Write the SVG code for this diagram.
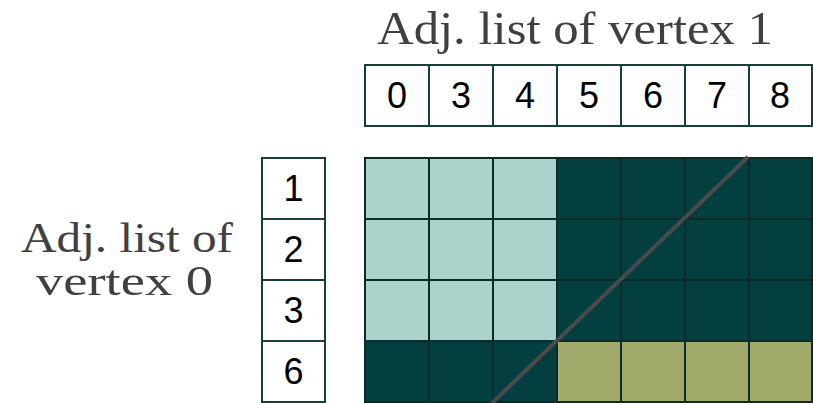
<svg xmlns="http://www.w3.org/2000/svg" width="813" height="403" viewBox="0 0 813 403">
<style>
.lbl{font-family:"Liberation Serif","DejaVu Serif",serif;font-size:46px;fill:#404040}
.lbl2{font-family:"Liberation Serif","DejaVu Serif",serif;font-size:43px;fill:#404040}
.box{fill:#ffffff;stroke:#163f3c;stroke-width:2}
.num{font-family:"Liberation Sans","DejaVu Sans",sans-serif;font-size:36px;fill:#000000;text-anchor:middle}
.lt{fill:#acd3cb;stroke:#0b2b29;stroke-width:2}
.dk{fill:#023f3e;stroke:#0b2b29;stroke-width:2}
.ol{fill:#a2aa6b;stroke:#0b2b29;stroke-width:2}
</style>
<rect width="813" height="403" fill="#ffffff"/>
<g id="title-top"><text class="lbl" x="377" y="44" textLength="396" lengthAdjust="spacingAndGlyphs">Adj. list of vertex 1</text></g>
<g id="title-left">
<text class="lbl2" x="21" y="252" textLength="212" lengthAdjust="spacingAndGlyphs">Adj. list of</text>
<text class="lbl2" x="36" y="295" textLength="177" lengthAdjust="spacingAndGlyphs">vertex 0</text>
</g>
<g id="list1">
<g id="l1-0"><rect class="box" x="365" y="65" width="64" height="61"/><text class="num" x="397" y="108">0</text></g>
<g id="l1-3"><rect class="box" x="429" y="65" width="64" height="61"/><text class="num" x="461" y="108">3</text></g>
<g id="l1-4"><rect class="box" x="493" y="65" width="64" height="61"/><text class="num" x="525" y="108">4</text></g>
<g id="l1-5"><rect class="box" x="557" y="65" width="64" height="61"/><text class="num" x="589" y="108">5</text></g>
<g id="l1-6"><rect class="box" x="621" y="65" width="64" height="61"/><text class="num" x="653" y="108">6</text></g>
<g id="l1-7"><rect class="box" x="685" y="65" width="64" height="61"/><text class="num" x="717" y="108">7</text></g>
<g id="l1-8"><rect class="box" x="749" y="65" width="63" height="61"/><text class="num" x="780" y="108">8</text></g>
</g>
<g id="list0">
<g id="l0-1"><rect class="box" x="262" y="158" width="63" height="61"/><text class="num" x="293.5" y="201">1</text></g>
<g id="l0-2"><rect class="box" x="262" y="219" width="63" height="61"/><text class="num" x="293.5" y="262">2</text></g>
<g id="l0-3"><rect class="box" x="262" y="280" width="63" height="61"/><text class="num" x="293.5" y="323">3</text></g>
<g id="l0-6"><rect class="box" x="262" y="341" width="63" height="61"/><text class="num" x="293.5" y="384">6</text></g>
</g>
<g id="matrix">
<rect class="lt" x="365" y="158" width="64" height="61"/><rect class="lt" x="429" y="158" width="64" height="61"/><rect class="lt" x="493" y="158" width="64" height="61"/>
<rect class="dk" x="557" y="158" width="64" height="61"/><rect class="dk" x="621" y="158" width="64" height="61"/><rect class="dk" x="685" y="158" width="64" height="61"/><rect class="dk" x="749" y="158" width="63" height="61"/>
<rect class="lt" x="365" y="219" width="64" height="61"/><rect class="lt" x="429" y="219" width="64" height="61"/><rect class="lt" x="493" y="219" width="64" height="61"/>
<rect class="dk" x="557" y="219" width="64" height="61"/><rect class="dk" x="621" y="219" width="64" height="61"/><rect class="dk" x="685" y="219" width="64" height="61"/><rect class="dk" x="749" y="219" width="63" height="61"/>
<rect class="lt" x="365" y="280" width="64" height="61"/><rect class="lt" x="429" y="280" width="64" height="61"/><rect class="lt" x="493" y="280" width="64" height="61"/>
<rect class="dk" x="557" y="280" width="64" height="61"/><rect class="dk" x="621" y="280" width="64" height="61"/><rect class="dk" x="685" y="280" width="64" height="61"/><rect class="dk" x="749" y="280" width="63" height="61"/>
<rect class="dk" x="365" y="341" width="64" height="61"/><rect class="dk" x="429" y="341" width="64" height="61"/><rect class="dk" x="493" y="341" width="64" height="61"/>
<rect class="ol" x="557" y="341" width="64" height="61"/><rect class="ol" x="621" y="341" width="64" height="61"/><rect class="ol" x="685" y="341" width="64" height="61"/><rect class="ol" x="749" y="341" width="63" height="61"/>
</g>
<g id="connectors">
<line x1="748" y1="157" x2="492" y2="403" stroke="#4a4a4a" stroke-width="4"/>
</g>
</svg>
